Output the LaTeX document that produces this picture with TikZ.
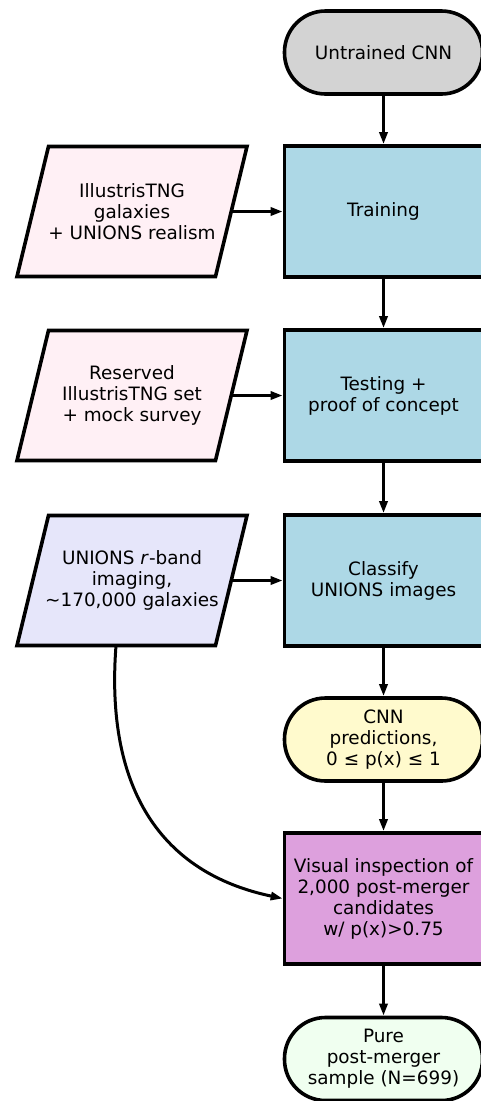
\documentclass[tikz,border=0pt]{standalone}
\usepackage{fontspec}
\setmainfont{DejaVu Sans}
\usetikzlibrary{arrows.meta,calc}
\definecolor{cgray}{HTML}{D3D3D3}
\definecolor{cblue}{HTML}{ADD8E6}
\definecolor{cpink}{HTML}{FFF0F5}
\definecolor{clav}{HTML}{E6E6FA}
\definecolor{clemon}{HTML}{FFFACD}
\definecolor{cplum}{HTML}{DDA0DD}
\definecolor{choney}{HTML}{F0FFF0}
\begin{document}
\begin{tikzpicture}[x=1pt,y=-1pt,
  every node/.style={font=\fontsize{18.4}{21}\selectfont, align=center, inner sep=0pt},
  box/.style={draw=black, line width=3.6pt, minimum width=198pt, minimum height=131pt},
  term/.style={draw=black, line width=3.6pt, rounded corners=41pt, minimum width=198pt, minimum height=83pt},
  ptext/.style={minimum width=198.5pt, minimum height=130pt},
  pshape/.style={draw=black, line width=3.6pt, line join=miter},
  conn/.style={line width=3pt, -{Triangle[length=12pt,width=8pt]}},
]
\clip (0,0) rectangle (481,1101);
\useasboundingbox (0,0) rectangle (481,1101);

% right column
\node[term, fill=cgray]   (cnn)   at (383.5,52.5)  {Untrained CNN};
\node[box,  fill=cblue]   (train) at (383.5,211.5) {Training};
\node[box,  fill=cblue]   (test)  at (383.5,395.5) {Testing +\\proof of concept};
\node[box,  fill=cblue]   (class) at (383.5,580.5) {Classify\\UNIONS images};
\node[term, fill=clemon]  (pred)  at (383.5,739.5) {CNN\\predictions,\\0 ≤ p(x) ≤ 1};
\node[box,  fill=cplum]   (vis)   at (383.5,898.5) {Visual inspection of\\2,000 post-merger\\candidates\\w/ p(x)>0.75};
\node[term, fill=choney]  (pure)  at (383.5,1059)  {Pure\\post-merger\\sample (N=699)};

% left column (parallelograms)
\draw[pshape, fill=cpink] (48.5,146.5) -- (247,146.5) -- (215.5,276.5) -- (17,276.5) -- cycle;
\node[ptext] (d1) at (132,211.5) {IllustrisTNG\\galaxies\\+ UNIONS realism};
\begin{scope}[shift={(0,184)}]
\draw[pshape, fill=cpink] (48.5,146.5) -- (247,146.5) -- (215.5,276.5) -- (17,276.5) -- cycle;
\end{scope}
\node[ptext] (d2) at (132,395.5) {Reserved\\IllustrisTNG set\\+ mock survey};
\begin{scope}[shift={(0,369)}]
\draw[pshape, fill=clav] (48.5,146.5) -- (247,146.5) -- (215.5,276.5) -- (17,276.5) -- cycle;
\end{scope}
\node[ptext] (d3) at (132,580.5) {UNIONS \textit{r}-band\\imaging,\\\textasciitilde170,000 galaxies};

% connectors
\draw[conn] (cnn) -- (train);
\draw[conn] (train) -- (test);
\draw[conn] (test) -- (class);
\draw[conn] (class) -- (pred);
\draw[conn] (pred) -- (vis);
\draw[conn] (vis) -- (pure);
\draw[conn] (d1.east) -- (train.west);
\draw[conn] (d2.east) -- (test.west);
\draw[conn] (d3.east) -- (class.west);
\draw[conn] ([xshift=-16pt]d3.south) .. controls (105,789) and (161,873) .. (vis.west);
\end{tikzpicture}
\end{document}
